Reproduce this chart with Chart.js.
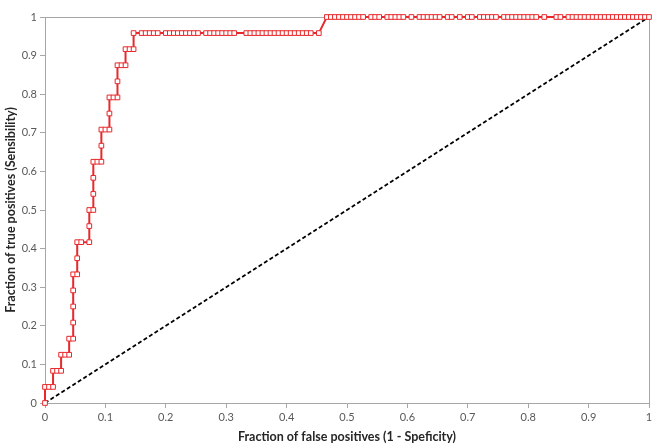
<!DOCTYPE html>
<html>
<head>
<meta charset="utf-8">
<script src="https://cdn.jsdelivr.net/npm/chart.js@4.4.0/dist/chart.umd.min.js"></script>
<style>
  html, body { margin: 0; padding: 0; background: #ffffff; }
  #wrap { width: 657px; height: 448px; position: relative; }
</style>
</head>
<body>
<div id="wrap"><canvas id="c" width="657" height="448"></canvas></div>
<script>
// ---- data ----
const xTickValues = [0, 0.1, 0.2, 0.3, 0.4, 0.5, 0.6, 0.7, 0.8, 0.9, 1];
const xTickLabels = ["0", "0.1", "0.2", "0.3", "0.4", "0.5", "0.6", "0.7", "0.8", "0.9", "1"];
const yTickValues = [0, 0.1, 0.2, 0.3, 0.4, 0.5, 0.6, 0.7, 0.8, 0.9, 1];
const yTickLabels = ["0", "0.1", "0.2", "0.3", "0.4", "0.5", "0.6", "0.7", "0.8", "0.9", "1"];

const xAxisTitle = "Fraction of false positives (1 - Speficity)";
const yAxisTitle = "Fraction of true positives (Sensibility)";

// totals of negatives / positives (steps seen on the axes)
const negativesTotal = 150;
const positivesTotal = 24;

// counts of false positives and true positives at each plotted threshold
const falsePositives = [
  0, 0, 1, 2, 2, 3, 4, 4, 5, 6,
  6, 7, 7, 7, 7, 7, 8, 8, 8, 9,
  11, 11, 11, 12, 12, 12, 12, 13, 14, 14,
  14, 15, 16, 16, 16, 17, 18, 18, 18, 19,
  20, 20, 21, 22,
  22, 24, 25, 26, 27, 28, 30, 31, 32, 33,
  34, 35, 36, 37, 38, 40, 41, 42, 43, 44,
  45, 46, 47, 50, 51, 52, 53, 54, 55, 56,
  57, 58, 59, 60, 61, 62, 63, 64, 65, 66,
  68,
  70, 71, 72, 73, 74, 75, 76, 77, 78, 79,
  81, 82, 83, 85, 86, 87, 88, 89, 91, 93,
  94, 95, 96, 97, 98, 100, 101, 103, 105, 106,
  108, 109, 110, 111, 112, 114, 115, 116, 117, 118,
  119, 120, 121, 122, 124, 127, 128, 130, 131, 132,
  133, 134, 135, 136, 137, 138, 139, 140, 141, 142,
  143, 144, 145, 146, 147, 148, 149, 150
];
const truePositives = [
  0, 1, 1, 1, 2, 2, 2, 3, 3, 3,
  4, 4, 5, 6, 7, 8, 8, 9, 10, 10,
  10, 11, 12, 12, 13, 14, 15, 15, 15, 16,
  17, 17, 17, 18, 19, 19, 19, 20, 21, 21,
  21, 22, 22, 22,
  23, 23, 23, 23, 23, 23, 23, 23, 23, 23,
  23, 23, 23, 23, 23, 23, 23, 23, 23, 23,
  23, 23, 23, 23, 23, 23, 23, 23, 23, 23,
  23, 23, 23, 23, 23, 23, 23, 23, 23, 23,
  23,
  24, 24, 24, 24, 24, 24, 24, 24, 24, 24,
  24, 24, 24, 24, 24, 24, 24, 24, 24, 24,
  24, 24, 24, 24, 24, 24, 24, 24, 24, 24,
  24, 24, 24, 24, 24, 24, 24, 24, 24, 24,
  24, 24, 24, 24, 24, 24, 24, 24, 24, 24,
  24, 24, 24, 24, 24, 24, 24, 24, 24, 24,
  24, 24, 24, 24, 24, 24, 24, 24
];

// chance diagonal
const diagonalX = [0, 1];
const diagonalY = [0, 1];

// ---- build datasets ----
const rocPoints = falsePositives.map((fp, i) => ({ x: fp / negativesTotal, y: truePositives[i] / positivesTotal }));
const diagPoints = diagonalX.map((x, i) => ({ x: x, y: diagonalY[i] }));

const FONT = "Lato, 'Open Sans', 'Liberation Sans', sans-serif";
const GRAY = '#a6a6a6';
const RED = '#e8282b';

const framePlugin = {
  id: 'frame',
  beforeDatasetsDraw(chart) {
    const { ctx, chartArea: a } = chart;
    ctx.save();
    ctx.strokeStyle = GRAY;
    ctx.lineWidth = 1;
    ctx.beginPath();
    ctx.moveTo(Math.round(a.left) + 0.5, Math.round(a.top) + 0.5);
    ctx.lineTo(Math.round(a.right) + 0.5, Math.round(a.top) + 0.5);
    ctx.lineTo(Math.round(a.right) + 0.5, Math.round(a.bottom) + 0.5);
    ctx.stroke();
    ctx.restore();
  }
};

new Chart(document.getElementById('c').getContext('2d'), {
  type: 'scatter',
  data: {
    datasets: [
      {
        label: 'ROC',
        data: rocPoints,
        showLine: true,
        borderColor: RED,
        borderWidth: 2,
        pointStyle: 'rect',
        pointRadius: 3.3,
        pointBorderWidth: 1,
        pointBackgroundColor: '#ffffff',
        pointBorderColor: RED,
        clip: false,
        order: 1
      },
      {
        label: 'Chance',
        data: diagPoints,
        showLine: true,
        borderColor: '#000000',
        borderWidth: 1.8,
        borderDash: [4, 2.5],
        pointRadius: 0,
        clip: false,
        order: 2
      }
    ]
  },
  options: {
    responsive: false,
    animation: false,
    events: [],
    layout: { padding: { left: 0, right: 8, top: 17, bottom: 0 } },
    plugins: { legend: { display: false }, tooltip: { enabled: false } },
    scales: {
      x: {
        type: 'linear',
        min: 0, max: 1,
        afterBuildTicks: s => { s.ticks = xTickValues.map(v => ({ value: v })); },
        afterFit: s => { s.height = 45; },
        border: { display: true, color: GRAY, width: 1 },
        grid: { display: true, drawOnChartArea: false, drawTicks: true, tickLength: 5, color: GRAY },
        ticks: {
          callback: (v, i) => xTickLabels[i],
          font: { family: FONT, size: 11 },
          color: '#595959',
          padding: 3,
          maxRotation: 0,
          autoSkip: false
        },
        title: {
          display: true,
          text: xAxisTitle,
          font: { family: FONT, size: 12.5, weight: 'bold' },
          color: '#262626',
          padding: { top: 0, bottom: 4 }
        }
      },
      y: {
        type: 'linear',
        min: 0, max: 1,
        afterBuildTicks: s => { s.ticks = yTickValues.map(v => ({ value: v })); },
        afterFit: s => { s.width = 45; },
        border: { display: true, color: GRAY, width: 1 },
        grid: { display: true, drawOnChartArea: false, drawTicks: true, tickLength: 5, color: GRAY },
        ticks: {
          callback: (v, i) => yTickLabels[i],
          font: { family: FONT, size: 11 },
          color: '#595959',
          padding: 3,
          autoSkip: false
        },
        title: {
          display: true,
          text: yAxisTitle,
          font: { family: FONT, size: 12.5, weight: 'bold' },
          color: '#262626',
          padding: { top: 3, bottom: 0 }
        }
      }
    }
  },
  plugins: [framePlugin]
});
</script>
</body>
</html>
